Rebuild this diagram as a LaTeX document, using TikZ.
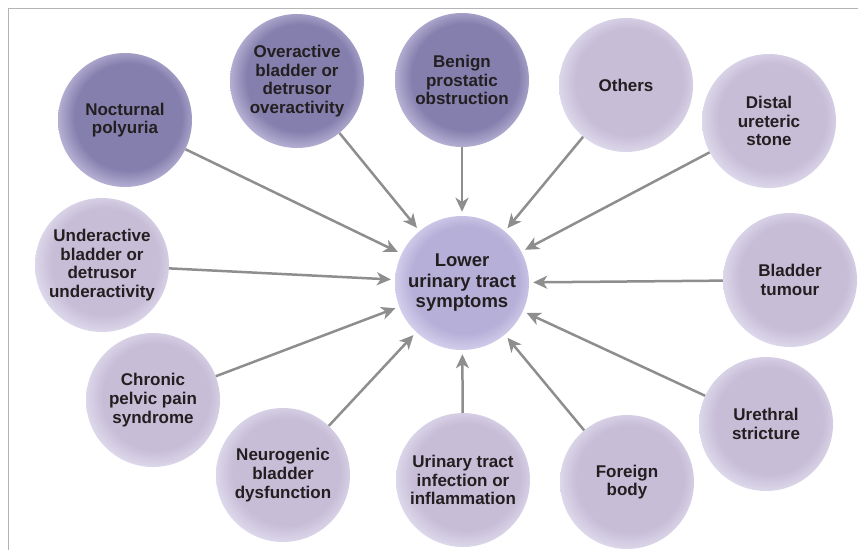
\documentclass[tikz,border=0pt]{standalone}
\usepackage{fontspec}
\setmainfont{Liberation Sans}
\usetikzlibrary{arrows.meta}

\definecolor{darkfill}{HTML}{857FAE}
\definecolor{darkrim}{HTML}{B4AFD2}
\definecolor{lightfill}{HTML}{C7BDD7}
\definecolor{lightrim}{HTML}{DCD7EA}
\definecolor{hubfill}{HTML}{B6AFD8}
\definecolor{hubrim}{HTML}{D2CDEB}
\definecolor{arrowgray}{HTML}{8E8E8E}
\definecolor{textdark}{HTML}{231F20}
\definecolor{framegray}{HTML}{B4B4B4}

\pgfdeclareradialshading{darkbub}{\pgfpoint{2bp}{2bp}}{color(0bp)=(darkfill); color(20bp)=(darkfill); color(26bp)=(darkrim); color(50bp)=(darkrim)}
\pgfdeclareradialshading{lightbub}{\pgfpoint{2bp}{2bp}}{color(0bp)=(lightfill); color(20bp)=(lightfill); color(26bp)=(lightrim); color(50bp)=(lightrim)}
\pgfdeclareradialshading{hubbub}{\pgfpoint{2bp}{2bp}}{color(0bp)=(hubfill); color(20bp)=(hubfill); color(26bp)=(hubrim); color(50bp)=(hubrim)}

\tikzset{
  bubble/.style={circle, minimum size=134pt, inner sep=0pt, align=center,
    text=textdark, font=\bfseries\fontsize{17}{18.7}\selectfont},
  darkbubble/.style={bubble, shading=darkbub},
  lightbubble/.style={bubble, shading=lightbub},
  hubbubble/.style={bubble, shading=hubbub, font=\bfseries\fontsize{18.5}{20.5}\selectfont},
  cause/.style={draw=arrowgray, line width=2.5pt,
    -{Stealth[length=14pt,width=13pt,inset=4pt]}, shorten >=4pt}
}

\begin{document}
\begin{tikzpicture}[x=1pt,y=-1pt]
  \useasboundingbox (0,0) rectangle (858,550);
  \draw[framegray,line width=1pt] (8,550) -- (8,8) -- (858,8);

  \node[hubbubble] (luts) at (462,283) {Lower\\urinary tract\\symptoms};

  \node[darkbubble] (noct) at (125,120) {Nocturnal\\polyuria};
  \node[darkbubble] (oab) at (297,81) {Overactive\\bladder or\\detrusor\\overactivity};
  \node[darkbubble] (bpo) at (462,80) {Benign\\prostatic\\obstruction};
  \node[lightbubble] (oth) at (626,85) {Others};
  \node[lightbubble] (stone) at (769,121) {Distal\\ureteric\\stone};
  \node[lightbubble] (uab) at (102,265) {Underactive\\bladder or\\detrusor\\underactivity};
  \node[lightbubble] (tum) at (790,280) {Bladder\\tumour};
  \node[lightbubble] (pelv) at (153,400) {Chronic\\pelvic pain\\syndrome};
  \node[lightbubble] (stric) at (766,424) {Urethral\\stricture};
  \node[lightbubble] (neuro) at (283,475) {Neurogenic\\bladder\\dysfunction};
  \node[lightbubble] (uti) at (463,480) {Urinary tract\\infection or\\inflammation};
  \node[lightbubble] (fb) at (627,482) {Foreign\\body};

  \foreach \src in {noct,oab,bpo,oth,stone,uab,tum,pelv,stric,neuro,uti,fb}
    \draw[cause] (\src) -- (luts);
\end{tikzpicture}
\end{document}
